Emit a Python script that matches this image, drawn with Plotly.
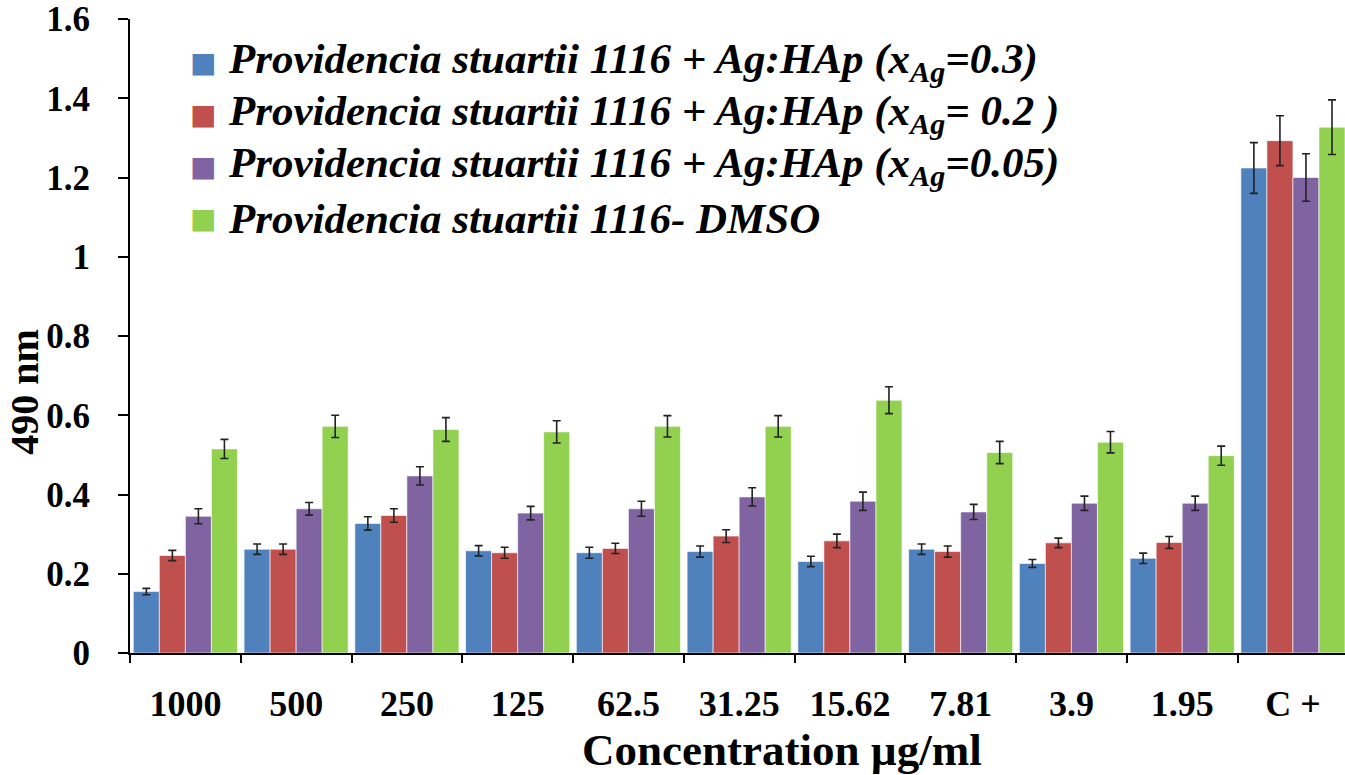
import plotly.graph_objects as go

categories = ["1000", "500", "250", "125", "62.5", "31.25", "15.62", "7.81", "3.9", "1.95", "C +"]

series_names = [
    "Providencia stuartii 1116 + Ag:HAp (x<sub>Ag</sub>=0.3)",
    "Providencia stuartii 1116 + Ag:HAp (x<sub>Ag</sub>= 0.2 )",
    "Providencia stuartii 1116 + Ag:HAp (x<sub>Ag</sub>=0.05)",
    "Providencia stuartii 1116- DMSO",
]

vals_03 = [0.155, 0.262, 0.327, 0.258, 0.253, 0.256, 0.231, 0.262, 0.226, 0.239, 1.224]
vals_02 = [0.246, 0.262, 0.347, 0.253, 0.264, 0.295, 0.283, 0.256, 0.278, 0.279, 1.293]
vals_005 = [0.345, 0.364, 0.447, 0.353, 0.364, 0.394, 0.383, 0.356, 0.378, 0.378, 1.200]
vals_dmso = [0.515, 0.572, 0.564, 0.558, 0.572, 0.572, 0.638, 0.506, 0.532, 0.498, 1.327]

err_03 = [0.008, 0.013, 0.017, 0.013, 0.014, 0.014, 0.013, 0.013, 0.010, 0.013, 0.064]
err_02 = [0.013, 0.013, 0.017, 0.014, 0.013, 0.016, 0.017, 0.014, 0.012, 0.015, 0.063]
err_005 = [0.019, 0.016, 0.023, 0.017, 0.019, 0.023, 0.023, 0.019, 0.018, 0.018, 0.060]
err_dmso = [0.024, 0.028, 0.030, 0.028, 0.027, 0.027, 0.034, 0.028, 0.027, 0.024, 0.069]

x_title = "Concentration µg/ml"
y_title = "490 nm"

colors = ["#4F81BD", "#C0504D", "#8064A2", "#92D050"]

all_vals = [vals_03, vals_02, vals_005, vals_dmso]
all_errs = [err_03, err_02, err_005, err_dmso]

serif = "Liberation Serif, Times New Roman, serif"

fig = go.Figure()
for name, v, e, c in zip(series_names, all_vals, all_errs, colors):
    fig.add_trace(go.Bar(
        x=categories, y=v, name=name, showlegend=False,
        marker=dict(color=c, line=dict(color="rgba(255,255,255,0.6)", width=1)),
        error_y=dict(type="data", array=e, visible=True, color="#222222",
                     thickness=1.6, width=4),
    ))

# legend drawn as text rows (swatch + label)
legend_y = [0.932, 0.850, 0.768, 0.686]
for name, c, yy in zip(series_names, colors, legend_y):
    fig.add_annotation(
        xref="paper", yref="paper", x=0.060, y=yy, xanchor="center", yanchor="middle",
        text="■", showarrow=False,
        font=dict(family="DejaVu Sans", size=28, color=c),
    )
    fig.add_annotation(
        xref="paper", yref="paper", x=0.079, y=yy, xanchor="left", yanchor="middle",
        text=name, showarrow=False,
        font=dict(family=serif, size=43, color="black", weight="bold", style="italic"),
    )

# axis titles
fig.add_annotation(
    xref="paper", yref="paper", x=0.537, y=-0.153, xanchor="center", yanchor="middle",
    text=x_title, showarrow=False,
    font=dict(family=serif, size=45, color="black", weight="bold"),
)
fig.add_annotation(
    xref="paper", yref="paper", x=-0.0864, y=0.412, xanchor="center", yanchor="middle",
    text=y_title, showarrow=False, textangle=-90,
    font=dict(family=serif, size=40, color="black", weight="bold"),
)

fig.update_layout(
    width=1345, height=775,
    paper_bgcolor="white", plot_bgcolor="white",
    margin=dict(l=130, r=0, t=19, b=122, autoexpand=False),
    barmode="group", bargap=0.06, bargroupgap=0,
    font=dict(family=serif, color="black"),
    showlegend=False,
    xaxis=dict(
        range=[-0.5, 10.47], automargin=False,
        showline=True, linecolor="black", linewidth=2,
        ticks="outside", tickson="boundaries", ticklen=8, tickwidth=2, tickcolor="black",
        tickfont=dict(family=serif, size=36, color="black", weight="bold"),
        ticklabelstandoff=18,
        showgrid=False, zeroline=False,
    ),
    yaxis=dict(
        range=[0, 1.6], automargin=False,
        tickvals=[0, 0.2, 0.4, 0.6, 0.8, 1, 1.2, 1.4, 1.6],
        ticktext=["0", "0.2", "0.4", "0.6", "0.8", "1", "1.2", "1.4", "1.6"],
        showline=True, linecolor="black", linewidth=2,
        ticks="outside", ticklen=10, tickwidth=2, tickcolor="black",
        tickfont=dict(family=serif, size=35, color="black", weight="bold"),
        ticklabelstandoff=21,
        showgrid=False, zeroline=False,
    ),
)

fig.write_html(
    "out.html",
    config={"displayModeBar": False},
    post_script="document.body.style.margin='0px';document.body.style.overflow='hidden';",
)
